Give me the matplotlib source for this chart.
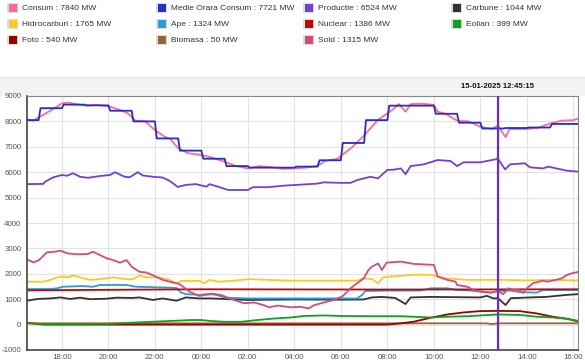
import matplotlib
matplotlib.use("Agg")
import matplotlib.pyplot as plt
from matplotlib.patches import Rectangle

plt.rcParams["font.family"] = ["Liberation Sans", "DejaVu Sans"]
plt.rcParams["axes.unicode_minus"] = False

# --- data (MW), times as HH:MM; hours before 16:30 belong to the next day ---
consum_t = ["16:30", "16:45", "17:05", "17:30", "18:00", "18:15", "18:30", "19:00", "19:30", "20:00",
            "20:30", "20:50", "21:10", "21:35", "22:00", "22:25", "22:40", "23:00", "23:25", "23:50",
            "00:25", "01:00", "01:30", "02:00", "02:30", "03:00", "03:30", "04:00", "04:30", "05:00",
            "05:20", "05:50", "06:30", "07:00", "07:35", "08:00", "08:15", "08:30", "08:47", "09:00",
            "09:30", "10:00", "10:10", "10:30", "11:00", "11:30", "12:00", "12:30", "12:45", "13:05",
            "13:15", "14:00", "14:30", "15:00", "15:30", "16:00", "16:15"]
consum_v = [8080, 8030, 8200, 8420, 8710, 8740, 8700, 8620, 8650, 8600,
            8450, 8320, 8030, 8000, 7660, 7400, 7300, 6950, 6750, 6700,
            6590, 6410, 6240, 6150, 6240, 6200, 6130, 6150, 6180, 6250,
            6450, 6520, 7000, 7450, 8050, 8320, 8480, 8680, 8380, 8680,
            8700, 8650, 8380, 8300, 8030, 8000, 7790, 7700, 7840, 7380,
            7700, 7700, 7750, 7920, 8030, 8050, 8130]

# hourly average, one value per hour starting at each time
medie_t = ["16:30", "17:00", "18:00", "19:00", "20:00", "21:00", "22:00", "23:00", "00:00", "01:00",
           "02:00", "03:00", "04:00", "05:00", "06:00", "07:00", "08:00", "09:00", "10:00", "11:00",
           "12:00", "13:00", "14:00", "15:00", "16:00", "16:15"]
medie_v = [8050, 8520, 8660, 8630, 8420, 8000, 7330, 6850, 6530, 6240,
           6180, 6180, 6220, 6470, 7150, 8050, 8620, 8620, 8300, 7950,
           7721, 7740, 7760, 7900, 7900, 7900]

productie_t = ["16:30", "17:12", "17:17", "17:38", "18:00", "18:13", "18:29", "18:47", "19:08", "19:38",
               "20:04", "20:17", "20:42", "20:55", "21:16", "21:29", "21:55", "22:20", "22:38", "22:59",
               "23:20", "23:46", "00:13", "00:21", "00:43", "01:09", "02:00", "02:13", "02:51", "03:33",
               "04:16", "04:59", "05:16", "05:58", "06:25", "06:42", "07:16", "07:36", "08:00", "08:17",
               "08:35", "08:47", "09:00", "09:34", "10:10", "10:43", "11:00", "11:17", "12:00", "12:45",
               "12:51", "13:04", "13:17", "13:55", "14:08", "14:42", "14:55", "15:43", "16:15"]
productie_v = [5530, 5540, 5630, 5800, 5890, 5860, 5960, 5820, 5780, 5850,
               5890, 6000, 5820, 5800, 6000, 5870, 5820, 5790, 5660, 5420,
               5500, 5530, 5430, 5530, 5430, 5300, 5300, 5410, 5410, 5470,
               5510, 5550, 5600, 5580, 5580, 5690, 5820, 5760, 6090, 6100,
               6150, 5920, 6240, 6310, 6480, 6440, 6240, 6390, 6390, 6524,
               6400, 6110, 6310, 6350, 6190, 6150, 6220, 6060, 6020]

carbune_t = ["16:30", "16:57", "17:30", "17:56", "18:21", "18:47", "19:13", "19:56", "20:21", "21:03",
             "21:20", "21:55", "22:20", "22:56", "23:20", "23:55", "00:26", "02:00", "04:00", "06:00",
             "06:59", "07:20", "07:46", "08:20", "08:47", "09:00", "09:52", "12:00", "12:17", "12:34",
             "12:45", "13:05", "13:19", "14:08", "14:50", "15:43", "16:15"]
carbune_v = [940, 1010, 1030, 1070, 1010, 1060, 1000, 1020, 1060, 1050,
             1070, 970, 1030, 940, 1070, 1030, 1030, 970, 990, 980,
             990, 1070, 1090, 1050, 810, 1070, 1090, 1070, 1130, 1030,
             1044, 770, 1040, 1070, 1090, 1170, 1200]

hidro_t = ["16:30", "17:12", "17:30", "17:48", "18:03", "18:16", "18:29", "18:47", "19:13", "19:38",
           "20:12", "20:47", "21:03", "21:20", "21:38", "22:12", "22:38", "22:56", "23:08", "23:55",
           "00:08", "00:21", "00:43", "01:25", "02:00", "03:51", "06:42", "06:59", "07:20", "07:36",
           "07:49", "08:07", "08:35", "09:08", "09:52", "10:10", "10:35", "11:27", "12:45", "14:00",
           "15:00", "16:15"]
hidro_v = [1690, 1690, 1760, 1860, 1890, 1860, 1940, 1860, 1760, 1790,
           1860, 1790, 1780, 1940, 1860, 1860, 1760, 1630, 1720, 1720,
           1630, 1760, 1690, 1730, 1790, 1730, 1730, 1820, 1790, 1630,
           1860, 1890, 1920, 1960, 1960, 1890, 1820, 1760, 1765, 1740,
           1760, 1740]

ape_t = ["16:30", "17:30", "17:48", "18:03", "18:55", "19:20", "19:38", "20:47", "21:12", "22:29",
         "22:56", "23:08", "23:20", "23:55", "00:26", "00:51", "01:09", "02:00", "06:42", "06:55",
         "07:03", "08:00", "09:25", "09:52", "10:35", "11:00", "11:34", "12:00", "12:26", "12:45",
         "13:17", "13:42", "14:25", "14:42", "16:15"]
ape_v = [1400, 1400, 1430, 1490, 1520, 1490, 1560, 1560, 1490, 1460,
         1440, 1260, 1200, 1170, 1220, 1170, 1060, 1030, 1030, 1170,
         1320, 1340, 1340, 1430, 1430, 1360, 1340, 1300, 1260, 1324,
         1340, 1280, 1260, 1360, 1360]

nuclear_t = ["16:30", "20:00", "00:00", "08:00", "12:45", "16:15"]
nuclear_v = [1350, 1370, 1390, 1380, 1386, 1390]

eolian_t = ["16:30", "17:10", "20:00", "21:20", "23:35", "00:00", "00:26", "01:00", "01:42", "02:25",
            "03:08", "03:51", "04:25", "05:16", "05:58", "07:24", "08:35", "09:52", "10:35", "11:27",
            "12:00", "12:45", "13:42", "14:25", "15:07", "15:43", "16:15"]
eolian_v = [60, 20, 30, 90, 180, 180, 140, 110, 110, 180,
            240, 280, 340, 360, 340, 330, 330, 280, 310, 330,
            360, 399, 380, 310, 280, 230, 140]

foto_t = ["16:30", "17:12", "08:00", "08:35", "09:08", "09:52", "10:35", "11:17", "12:00", "12:45",
          "13:42", "14:25", "15:07", "15:43", "16:15"]
foto_v = [70, 0, 0, 50, 115, 270, 400, 480, 530, 540,
          530, 440, 310, 230, 115]

biomasa_t = ["16:30", "12:15", "12:30", "12:45", "16:15"]
biomasa_v = [50, 50, 20, 50, 50]

sold_t = ["16:30", "16:46", "17:00", "17:22", "17:43", "17:56", "18:16", "18:39", "19:07", "19:20",
          "19:38", "19:56", "20:12", "20:30", "20:47", "21:00", "21:20", "21:38", "21:54", "22:20",
          "22:38", "23:03", "23:29", "23:54", "00:26", "00:38", "01:25", "01:50", "02:16", "02:42",
          "02:55", "03:17", "03:51", "04:16", "04:37", "04:50", "05:16", "05:41", "06:04", "06:25",
          "06:42", "06:59", "07:11", "07:20", "07:36", "07:46", "07:58", "08:35", "09:08", "10:00",
          "10:10", "10:35", "10:56", "11:00", "11:27", "11:42", "12:00", "12:26", "12:46", "12:59",
          "13:12", "13:25", "13:37", "13:50", "14:00", "14:16", "14:42", "14:52", "15:07", "15:30",
          "15:43", "15:56", "16:15"]
sold_v = [2570, 2450, 2530, 2850, 2870, 2910, 2800, 2770, 2780, 2870,
          2740, 2610, 2540, 2440, 2540, 2280, 2080, 2050, 1950, 1760,
          1690, 1600, 1300, 1130, 1200, 1170, 970, 840, 870, 760,
          680, 750, 680, 700, 640, 760, 870, 970, 1110, 1430,
          1630, 1820, 2150, 2280, 2410, 2150, 2440, 2480, 2390, 2350,
          1890, 1760, 1690, 1560, 1490, 1360, 1300, 1260, 1315, 1200,
          1430, 1360, 1380, 1240, 1430, 1630, 1730, 1690, 1730, 1820,
          1950, 2020, 2080]

legend_items = [
    ("Consum : 7840 MW", "#ff6a9a"), ("Medie Orara Consum : 7721 MW", "#2030c8"),
    ("Productie : 6524 MW", "#7040d8"), ("Carbune : 1044 MW", "#333333"),
    ("Hidrocarburi : 1765 MW", "#ffc820"), ("Ape : 1324 MW", "#2a9fd6"),
    ("Nuclear : 1386 MW", "#cc0000"), ("Eolian : 399 MW", "#10a020"),
    ("Foto : 540 MW", "#990000"), ("Biomasa : 50 MW", "#996633"),
    ("Sold : 1315 MW", "#d64a7c"),
]
cursor_time = "12:45"
cursor_label = "15-01-2025 12:45:15"


def hours(ts):
    # the window runs 16:30 -> 16:15 next day
    out = []
    for i, s in enumerate(ts):
        h, m = map(int, s.split(":"))
        v = h + m / 60
        if v < 16.5 and not (i == 0 and s == "16:30"):
            v += 24
        out.append(v)
    return out


fig = plt.figure(figsize=(5.85, 3.64), dpi=100)
W, H = 585, 364

# grey strip above the plot
fig.patches.append(Rectangle((0, 1 - 96 / H), 1, 19 / H, transform=fig.transFigure,
                             facecolor="#f3f3f3", edgecolor="none", zorder=-5))
fig.patches.append(Rectangle((0, 1 - 78 / H), 1, 1.2 / H, transform=fig.transFigure,
                             facecolor="#e2e2e2", edgecolor="none", zorder=-5))

# legend (drawn by hand, 4 columns x 3 rows)
col_x = [7, 156, 303, 451]
row_y = [8, 24, 40]
for i, (label, color) in enumerate(legend_items):
    r, c = i // 4, i % 4
    x0, y0 = col_x[c], row_y[r]
    fig.patches.append(Rectangle((x0 / W, 1 - (y0 + 5) / H), 11 / W, 10 / H,
                                 transform=fig.transFigure, facecolor="#dddddd",
                                 edgecolor="none"))
    fig.patches.append(Rectangle(((x0 + 1.5) / W, 1 - (y0 + 3.5) / H), 8 / W, 7 / H,
                                 transform=fig.transFigure, facecolor=color,
                                 edgecolor="none"))
    fig.text((x0 + 15) / W, 1 - y0 / H, label, fontsize=6, color="#333333",
             ha="left", va="center")

ax = fig.add_axes([27 / W, 1 - 350 / H, 551 / W, 254 / H])
ax.set_zorder(2)

lw = 1.3
series = [
    (biomasa_t, biomasa_v, "#996633"),
    (foto_t, foto_v, "#990000"),
    (eolian_t, eolian_v, "#10a020"),
    (carbune_t, carbune_v, "#333333"),
    (ape_t, ape_v, "#2a9fd6"),
    (nuclear_t, nuclear_v, "#cc0000"),
    (hidro_t, hidro_v, "#ffc820"),
    (sold_t, sold_v, "#d64a7c"),
    (productie_t, productie_v, "#7040d8"),
    (consum_t, consum_v, "#ff6a9a"),
]
for t, v, c in series:
    ax.plot(hours(t), v, color=c, lw=lw, solid_joinstyle="round")

# hourly average: hold each value over its hour, short ramp into the next one
mt = hours(medie_t)
mx, my = [], []
for i in range(len(mt) - 1):
    mx += [mt[i] + (0.08 if i else 0), mt[i + 1]]
    my += [medie_v[i], medie_v[i]]
ax.plot(mx, my, color="#2030c8", lw=lw)

cx = hours([cursor_time])[0]
ax.axvline(cx, color="#6a2bd0", lw=1.6, zorder=5)
fig.text((27 + (cx - 16.5) / (40.2 - 16.5) * 551) / W, 1 - 87 / H, cursor_label,
         fontsize=5.6, fontweight="bold", ha="center", va="center", color="#111111")

ax.set_xlim(16.5, 40.2)
ax.set_ylim(-1000, 9000)
xt = list(range(18, 41, 2))
ax.set_xticks(xt)
ax.set_xticklabels([f"{h % 24:02d}:00" for h in xt])
ax.set_yticks(range(-1000, 9001, 1000))
ax.tick_params(length=0, labelsize=5.7, labelcolor="#555555")
ax.tick_params(axis="y", pad=4)
ax.tick_params(axis="x", pad=3)
ax.grid(True, color="#e2e2e2", lw=0.8)
ax.set_axisbelow(True)
for side in ["top", "right"]:
    ax.spines[side].set_color("#888888")
    ax.spines[side].set_linewidth(0.8)
for side in ["left", "bottom"]:
    ax.spines[side].set_color("#444444")
    ax.spines[side].set_linewidth(1.2)

fig.savefig("out.png", dpi=100)
